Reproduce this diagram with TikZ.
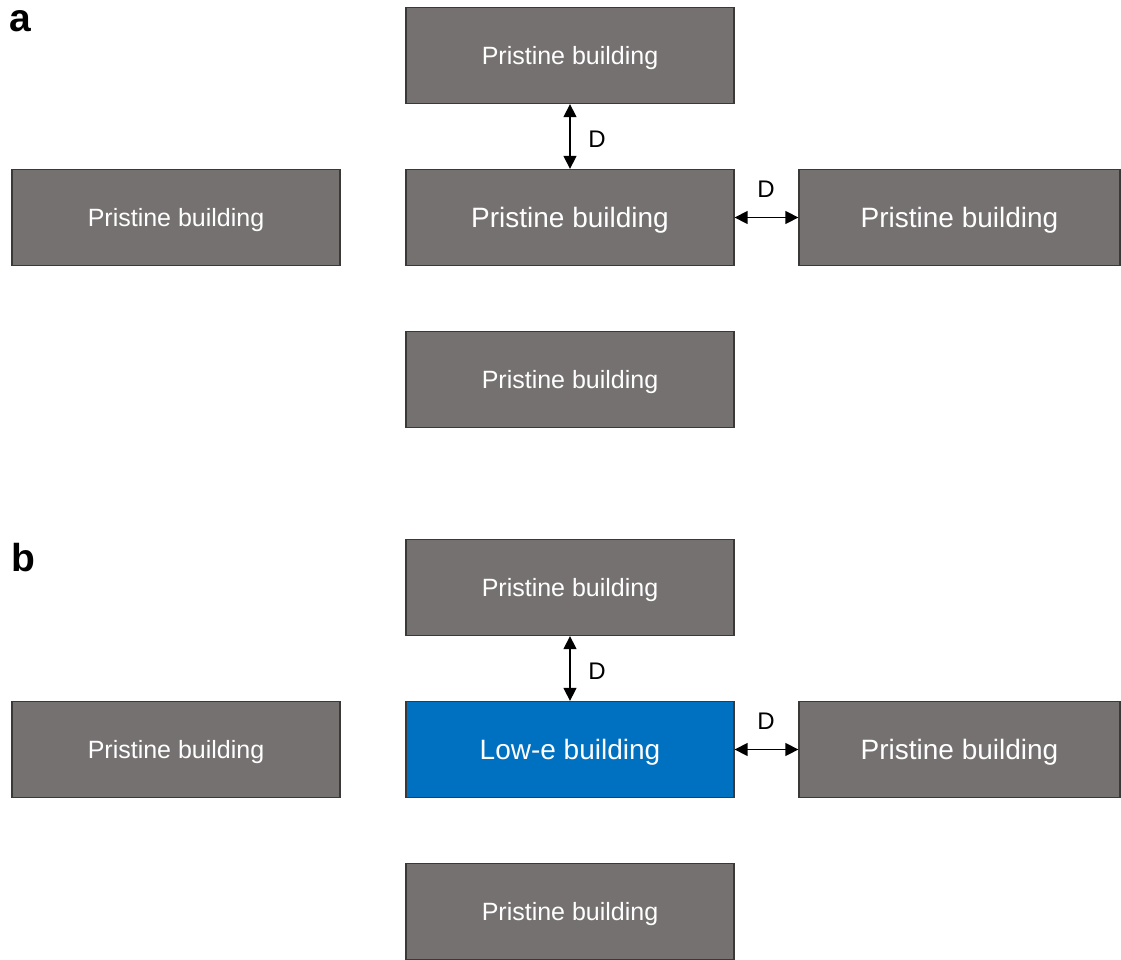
\documentclass[tikz,border=0pt]{standalone}
\usepackage{fontspec}
\setmainfont{Liberation Sans}
\usetikzlibrary{arrows.meta}
\definecolor{bldgray}{HTML}{767171}
\definecolor{bldedge}{HTML}{3B3838}
\definecolor{lowe}{HTML}{0070C0}
\tikzset{
  bldbox/.style={draw=bldedge, line width=1.3pt, fill=bldgray, text=white,
    minimum width=328pt, minimum height=96pt, inner sep=0pt,
    text height=18pt, text depth=0pt,
    font=\fontsize{25}{30}\selectfont},
  bigtext/.style={text height=20pt, font=\fontsize{28}{33}\selectfont},
  gap/.style={{Triangle[length=13pt,width=13pt]}-{Triangle[length=13pt,width=13pt]}, line width=1.4pt, black},
  gaplabel/.style={font=\fontsize{24}{28}\selectfont, inner sep=0pt},
  panellabel/.style={font=\fontsize{39}{43}\selectfont\bfseries, inner sep=0pt, anchor=north west}
}
% #1 name prefix, #2 vertical offset, #3 extra style of the middle building, #4 its text
\newcommand\buildingpanel[4]{%
  \begin{scope}[shift={(0,#2)}]
    \node[bldbox] (#1top) at (570,55.5) {Pristine building};
    \node[bldbox] (#1left) at (176,217.5) {Pristine building};
    \node[bldbox,bigtext,#3] (#1mid) at (570,217.5) {#4};
    \node[bldbox,bigtext,minimum width=321pt] (#1right) at (959.5,217.5) {Pristine building};
    \node[bldbox] (#1bottom) at (570,379.5) {Pristine building};
    \draw[gap] (#1top.south) -- (#1mid.north);
    \draw[gap] (#1mid.east) -- (#1right.west);
    \node[gaplabel] (#1dv) at (597,139) {D};
    \node[gaplabel] (#1dh) at (766,189) {D};
  \end{scope}}
\begin{document}
\begin{tikzpicture}[x=1pt,y=-1pt]
  \useasboundingbox (0,0) rectangle (1121,960);
  \node[panellabel] (labela) at (9,10) {a};
  \node[panellabel] (labelb) at (11,543) {b};
  \buildingpanel{a}{0}{}{Pristine building}
  \buildingpanel{b}{532}{fill=lowe}{Low-e building}
\end{tikzpicture}
\end{document}
